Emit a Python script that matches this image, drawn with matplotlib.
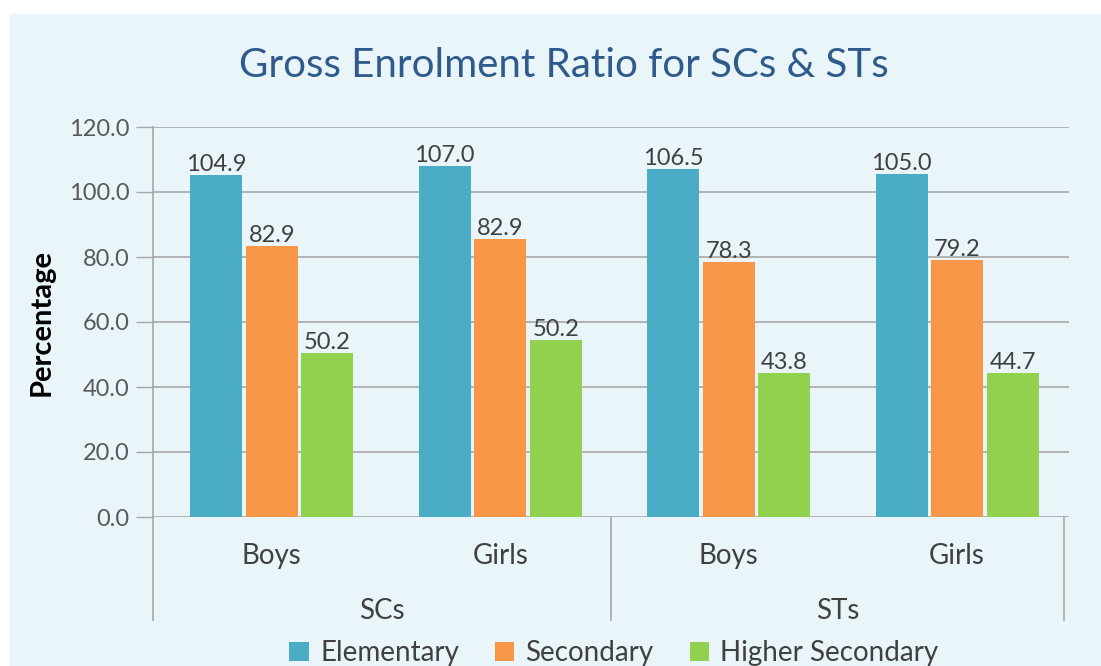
import matplotlib.pyplot as plt
from matplotlib.patches import Rectangle
from matplotlib.lines import Line2D

plt.rcParams['font.family'] = ['Lato', 'DejaVu Sans']

# data
groups = ["SCs", "STs"]
categories = ["Boys", "Girls", "Boys", "Girls"]
series = ["Elementary", "Secondary", "Higher Secondary"]
# bar heights as drawn in the picture
elementary = [105.2, 108.0, 107.1, 105.6]
secondary = [83.4, 85.6, 78.4, 79.0]
higher_secondary = [50.4, 54.4, 44.2, 44.2]
# printed data labels
elementary_lbl = ["104.9", "107.0", "106.5", "105.0"]
secondary_lbl = ["82.9", "82.9", "78.3", "79.2"]
higher_secondary_lbl = ["50.2", "50.2", "43.8", "44.7"]

colors = ["#4BACC6", "#F79646", "#92D050"]
bg = "#EAF5FA"
grid_col = "#A6A6A6"
txt_col = "#404040"

fig = plt.figure(figsize=(11.01, 6.66), dpi=100, facecolor="white")
fig.patches.append(Rectangle((10 / 1101, 0), 1, 1 - 14 / 666, transform=fig.transFigure,
                             facecolor=bg, edgecolor="none", zorder=-10))

ax = fig.add_axes([153 / 1101, 1 - 517 / 666, (1069 - 153) / 1101, (517 - 127) / 666])
ax.set_facecolor("none")

x = range(len(categories))
width = 0.228
step = 0.243
all_vals = [elementary, secondary, higher_secondary]
all_lbls = [elementary_lbl, secondary_lbl, higher_secondary_lbl]
for i, (vals, lbls) in enumerate(zip(all_vals, all_lbls)):
    pos = [xi + (i - 1) * step for xi in x]
    ax.bar(pos, vals, width, color=colors[i], label=series[i], zorder=3)
    for p, v, t in zip(pos, vals, lbls):
        ax.annotate(t, (p, v), xytext=(0, 0), textcoords="offset points",
                    ha="center", va="bottom", fontsize=17, color=txt_col)

ax.set_xlim(-0.52, 3.49)
ax.set_ylim(0, 120)
ax.set_yticks(range(0, 121, 20))
ax.set_yticklabels([f"{v:.1f}" for v in range(0, 121, 20)], fontsize=17, color="#595959")
ax.tick_params(axis="y", length=12, width=1, color=grid_col, pad=5)
ax.set_xticks([])
ax.grid(axis="y", color=grid_col, linewidth=1.2, zorder=0)
for s in ["top", "right", "bottom"]:
    ax.spines[s].set_visible(False)
ax.spines["left"].set_color(grid_col)
ax.spines["left"].set_linewidth(1.2)
ax.set_ylabel("Percentage", fontsize=21, fontweight="bold", color="black", labelpad=10)

# multi-level category axis
trans = ax.get_xaxis_transform()
for xi, c in zip(x, categories):
    ax.text(xi, -0.1, c, transform=trans, ha="center", va="center", fontsize=20, color=txt_col)
seps = [-0.52, 1.483, 3.47]
for s in seps:
    ax.add_line(Line2D([s, s], [0, -0.265], transform=trans, color=grid_col,
                       linewidth=1.2, clip_on=False))
for g, a, b in zip(groups, seps[:-1], seps[1:]):
    ax.text((a + b) / 2, -0.24, g, transform=trans, ha="center", va="center",
            fontsize=20, color=txt_col)

fig.text(0.512, 0.902, "Gross Enrolment Ratio for SCs & STs", ha="center", va="center",
         fontsize=29, color="#2E5B8C")

ax.legend(loc="center", bbox_to_anchor=(614 / 1101, 0.019), bbox_transform=fig.transFigure,
          ncol=3, frameon=False, fontsize=20, handlelength=0.7, handleheight=0.7,
          handletextpad=0.4, columnspacing=1.3, labelcolor=txt_col)

fig.savefig("out.png", dpi=100, facecolor="white")
